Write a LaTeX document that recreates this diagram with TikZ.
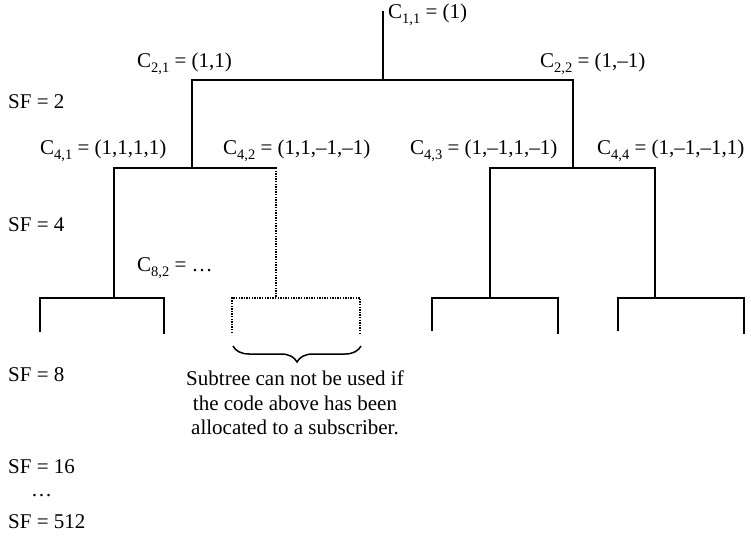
\documentclass[tikz,border=0pt]{standalone}
\usepackage{fontspec}
\setmainfont{Liberation Serif}
\usetikzlibrary{decorations.pathreplacing}
\newcommand{\lsub}[1]{\raisebox{-5.5pt}{\fontsize{14.5}{14.5}\selectfont #1}}
\begin{document}
\begin{tikzpicture}[x=1pt,y=-1pt,
  branch/.style={line width=2.9pt,line cap=rect},
  freebranch/.style={line width=1.7pt,dash pattern=on 1.4pt off 1.2pt},
  lbl/.style={anchor=west,inner sep=0pt,font=\fontsize{21}{24}\selectfont},
  capt/.style={align=center,inner sep=0pt,font=\fontsize{21}{24.5}\selectfont}]
\useasboundingbox (0,0) rectangle (751,536);
% junction coordinates
\coordinate (top) at (383,12);
\coordinate (r) at (383,80);
\coordinate (a) at (192,80);
\coordinate (b) at (573,80);
\coordinate (a2) at (192,168);
\coordinate (b2) at (573,168);
\coordinate (aa) at (114,168);
\coordinate (ab) at (276,168);
\coordinate (ba) at (490,168);
\coordinate (bb) at (655,168);
\coordinate (aa2) at (114,298);
\coordinate (ab2) at (276,298);
\coordinate (ba2) at (490,298);
\coordinate (bb2) at (655,298);
% leaves
\coordinate (l1) at (40,298);  \coordinate (l1e) at (40,331);
\coordinate (l2) at (164,298); \coordinate (l2e) at (164,333);
\coordinate (l3) at (232,298); \coordinate (l3e) at (232,333);
\coordinate (l4) at (360,298); \coordinate (l4e) at (360,333);
\coordinate (l5) at (432,298); \coordinate (l5e) at (432,330);
\coordinate (l6) at (558,298); \coordinate (l6e) at (558,333);
\coordinate (l7) at (618,298); \coordinate (l7e) at (618,330);
\coordinate (l8) at (744,298); \coordinate (l8e) at (744,333);
% tree
\draw[branch] (top) -- (r);
\draw[branch] (a2) -- (a) -- (b) -- (b2);
\draw[branch] (aa2) -- (aa) -- (ab);
\draw[branch] (ba2) -- (ba) -- (bb) -- (bb2);
\draw[branch] (l1e) -- (l1) -- (l2) -- (l2e);
\draw[branch] (l5e) -- (l5) -- (l6) -- (l6e);
\draw[branch] (l7e) -- (l7) -- (l8) -- (l8e);
\draw[freebranch] (ab) -- (ab2);
\draw[freebranch] (l3e) -- (l3) -- (l4) -- (l4e);
% brace
\coordinate (br1) at (233,346);
\coordinate (br2) at (361,346);
\draw[line width=1.5pt,decorate,decoration={brace,mirror,amplitude=16pt}] (br1) -- (br2);
% labels
\node[lbl] (c11) at (388,15) {C\lsub{1,1} = (1)};
\node[lbl] (c21) at (137,64) {C\lsub{2,1} = (1,1)};
\node[lbl] (c22) at (540,64) {C\lsub{2,2} = (1,–1)};
\node[lbl] (c41) at (40,151) {C\lsub{4,1} = (1,1,1,1)};
\node[lbl] (c42) at (223,151) {C\lsub{4,2} = (1,1,–1,–1)};
\node[lbl] (c43) at (410,151) {C\lsub{4,3} = (1,–1,1,–1)};
\node[lbl] (c44) at (597,151) {C\lsub{4,4} = (1,–1,–1,1)};
\node[lbl] (c82) at (137,268) {C\lsub{8,2} = …};
\node[lbl] (sf2) at (8,102) {SF = 2};
\node[lbl] (sf4) at (8,225) {SF = 4};
\node[lbl] (sf8) at (8,375) {SF = 8};
\node[lbl] (sf16) at (8,467) {SF = 16};
\node[lbl] (dots) at (31,496) {…};
\node[lbl] (sf512) at (8,522) {SF = 512};
\node[capt,anchor=north] (cap) at (295,371) {Subtree can not be used if\\the code above has been\\allocated to a subscriber.};
\end{tikzpicture}
\end{document}
